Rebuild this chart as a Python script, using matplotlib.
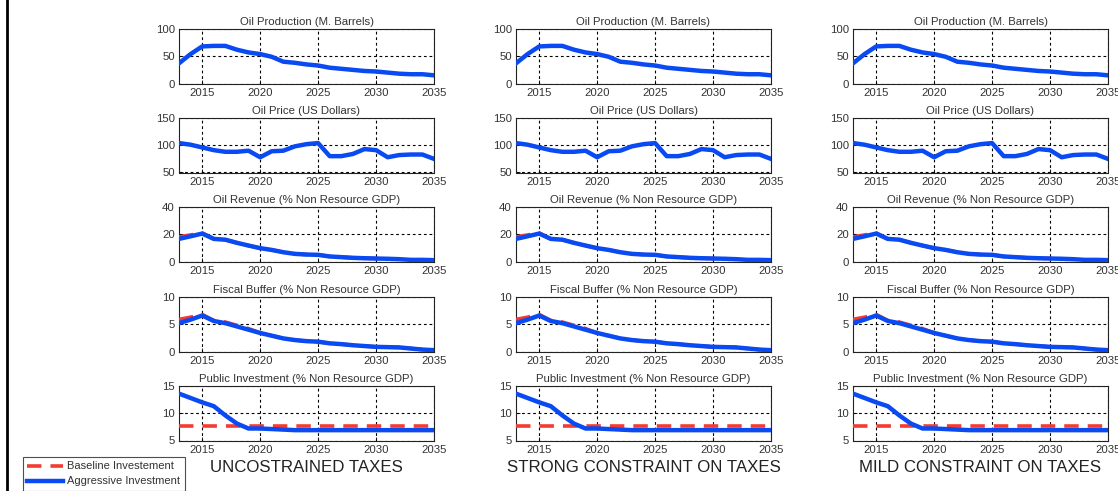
import matplotlib
matplotlib.use("Agg")
import matplotlib.pyplot as plt
from matplotlib.lines import Line2D
import numpy as np

plt.rcParams['font.family'] = ['Liberation Sans', 'DejaVu Sans']

years = list(range(2013, 2036))

oil_production = [37, 54, 68, 69, 69, 62, 57, 54, 49, 40, 38, 35, 33, 29, 27, 25, 23, 22, 20, 18, 17, 17, 15]
oil_price = [104, 101, 96, 91, 88, 88, 90, 78, 89, 90, 98, 102, 104, 80, 80, 84, 93, 91, 78, 82, 83, 83, 75]
revenue_aggr = [16.6, 18.5, 20.5, 16.6, 16, 13.7, 11.7, 9.8, 8.5, 6.8, 5.6, 5.1, 4.9, 3.7, 3.2, 2.7, 2.4, 2.2, 2.0, 1.7, 1.2, 1.2, 1.0]
revenue_base = [18, 19.5, 21, 16.6, 16, 13.7, 11.7, 9.8, 8.5, 6.8, 5.6, 5.1, 4.9, 3.7, 3.2, 2.7, 2.4, 2.2, 2.0, 1.7, 1.2, 1.2, 1.0]
buffer_aggr = [5.2, 5.85, 6.6, 5.6, 5.2, 4.6, 4.0, 3.4, 2.9, 2.4, 2.1, 1.9, 1.8, 1.5, 1.35, 1.15, 1.0, 0.85, 0.8, 0.75, 0.55, 0.35, 0.25]
buffer_base = [5.9, 6.3, 6.8, 5.7, 5.4, 4.8, 4.2, 3.4, 2.9, 2.4, 2.1, 1.9, 1.8, 1.5, 1.35, 1.15, 1.0, 0.85, 0.8, 0.75, 0.55, 0.35, 0.25]
invest_aggr = [13.6, 12.8, 12.0, 11.3, 9.6, 8.1, 7.2, 7.2, 7.1, 7.0, 6.9, 6.9, 6.9, 6.9, 6.9, 6.9, 6.9, 6.9, 6.9, 6.9, 6.9, 6.9, 6.9]
invest_base = [7.6] * len(years)

titles = ["Oil Production (M. Barrels)", "Oil Price (US Dollars)", "Oil Revenue (% Non Resource GDP)",
          "Fiscal Buffer (% Non Resource GDP)", "Public Investment (% Non Resource GDP)"]
ylims = [(0, 100), (50, 150), (0, 40), (0, 10), (5, 15)]
yticks = [[0, 50, 100], [50, 100, 150], [0, 20, 40], [0, 5, 10], [5, 10, 15]]
base_series = [None, None, revenue_base, buffer_base, invest_base]
aggr_series = [oil_production, oil_price, revenue_aggr, buffer_aggr, invest_aggr]
scenarios = ["UNCOSTRAINED TAXES", "STRONG CONSTRAINT ON TAXES", "MILD CONSTRAINT ON TAXES"]

blue = "#0a4af2"
red = "#f53a32"
txt = "#333333"

W, H = 1118, 491
fig = plt.figure(figsize=(W / 100, H / 100), dpi=100)

col_left = [179, 516, 853]
row_top = [29, 118, 207, 297, 386]
aw, ah = 255, 54.5

for c in range(3):
    for r in range(5):
        ax = fig.add_axes([col_left[c] / W, 1 - (row_top[r] + ah) / H, aw / W, ah / H])
        if base_series[r] is not None:
            ax.plot(years, base_series[r], color=red, lw=2.6, ls=(0, (4, 2.5)), zorder=3)
        ax.plot(years, aggr_series[r], color=blue, lw=3.2, zorder=4)
        ax.set_xlim(2013, 2035)
        ax.set_ylim(*ylims[r])
        ax.set_xticks([2015, 2020, 2025, 2030, 2035])
        ax.set_yticks(yticks[r])
        ax.grid(True, color="black", ls=(0, (2.5, 2.5)), lw=0.8)
        ax.tick_params(direction="in", length=3, labelsize=8.2, labelcolor=txt, pad=3, width=0.6)
        ax.set_title(titles[r], fontsize=8.2, color=txt, pad=3)
        for s in ax.spines.values():
            s.set_color("#222222")
            s.set_linewidth(0.8)
    fig.text((col_left[c] + aw / 2) / W, 1 - 467 / H, scenarios[c], fontsize=12.2,
             color="#222222", ha="center", va="center")

handles = [Line2D([], [], color=red, lw=2.6, ls=(0, (4, 2.5))),
           Line2D([], [], color=blue, lw=3.2)]
leg = fig.legend(handles, ["Baseline Investement", "Aggressive Investment"],
                 loc="upper left", bbox_to_anchor=(23 / W, 1 - 457 / H), fontsize=8,
                 frameon=True, fancybox=False, edgecolor="#222222", handlelength=3.2,
                 borderpad=0.4, labelspacing=0.45, handletextpad=0.4, borderaxespad=0)
leg.get_frame().set_linewidth(0.8)
for t in leg.get_texts():
    t.set_color(txt)

fig.add_artist(Line2D([6.5 / W, 6.5 / W], [0, 1], color="black", lw=2, transform=fig.transFigure))

fig.savefig("out.png", dpi=100)
